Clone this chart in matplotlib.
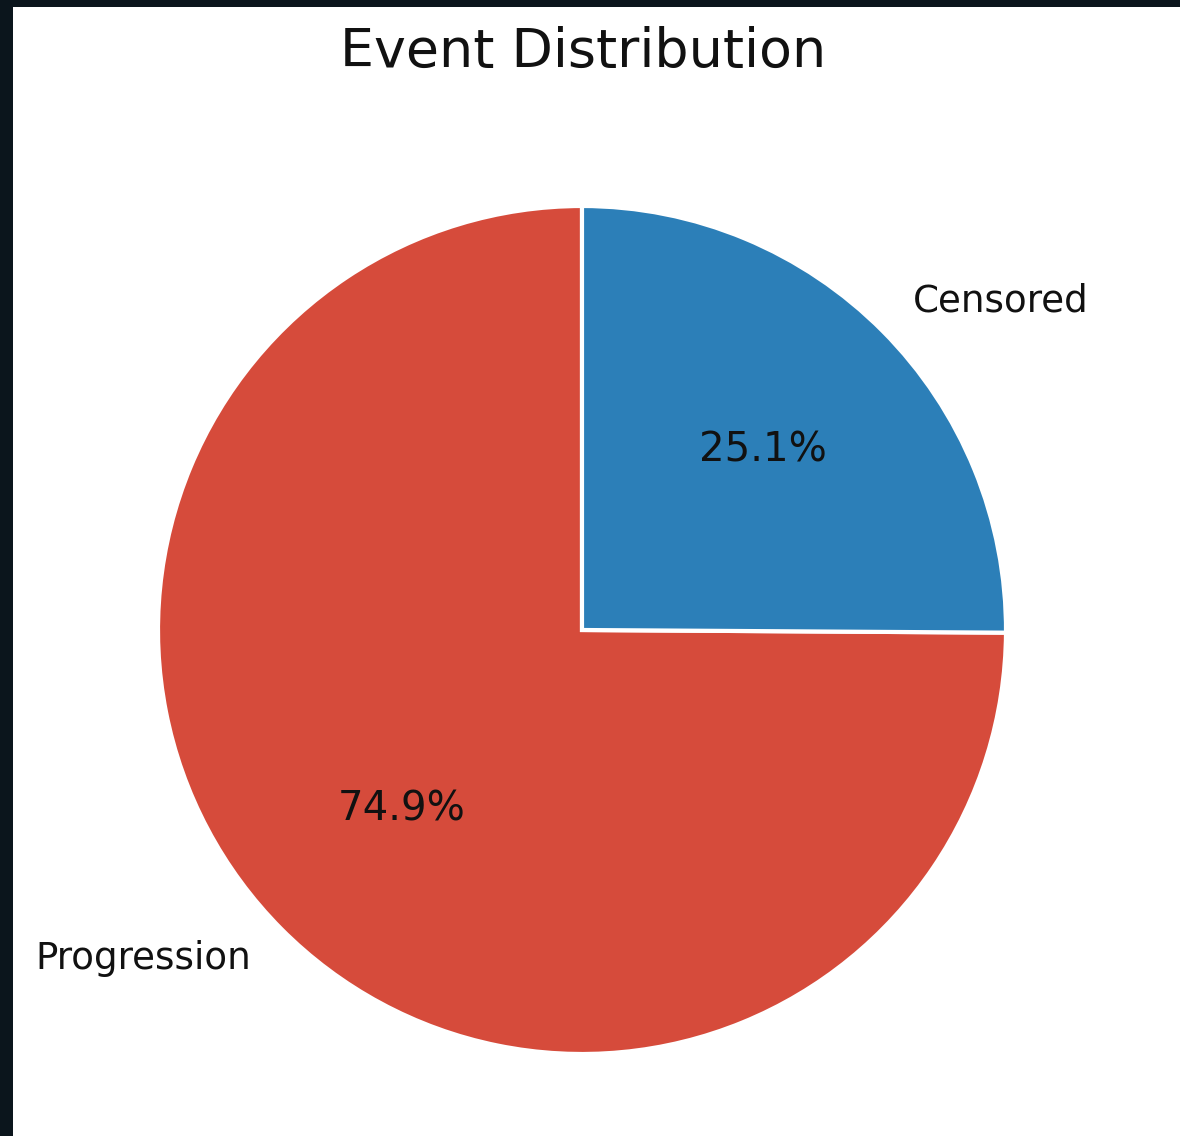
import matplotlib
matplotlib.use("Agg")
import matplotlib.pyplot as plt
from matplotlib.patches import Rectangle

# Event counts shares (percent)
categories = ["Progression", "Censored"]
shares = [74.9, 25.1]
colors = ["#d64b3b", "#2c7fb8"]

W, H = 1180, 1136
fig = plt.figure(figsize=(W / 100, H / 100), dpi=100)
fig.patch.set_facecolor("white")

# dark frame strips along the left and top edges
fig.patches.append(Rectangle((0, 0), 13 / W, 1, transform=fig.transFigure,
                             facecolor="#0b151c", edgecolor="none", zorder=10))
fig.patches.append(Rectangle((0, 1 - 7 / H), 1, 7 / H, transform=fig.transFigure,
                             facecolor="#0b151c", edgecolor="none", zorder=10))

cx, cy, r = 582, 630, 424
ax = fig.add_axes([(cx - r) / W, (H - cy - r) / H, 2 * r / W, 2 * r / H])
wedges, texts, autotexts = ax.pie(
    shares, labels=categories, colors=colors, autopct="%1.1f%%",
    startangle=90, counterclock=True, labeldistance=1.1, pctdistance=0.6,
    wedgeprops=dict(edgecolor="white", linewidth=3),
    textprops=dict(fontsize=26.8, color="#111111"),
)
for t in autotexts:
    t.set_fontsize(29)
ax.set_xlim(-1, 1)
ax.set_ylim(-1, 1)
ax.set_aspect("equal")

fig.text(583 / W, 1 - 52 / H, "Event Distribution", ha="center", va="center",
         fontsize=38.8, color="#111111")

fig.savefig("out.png", dpi=100)
